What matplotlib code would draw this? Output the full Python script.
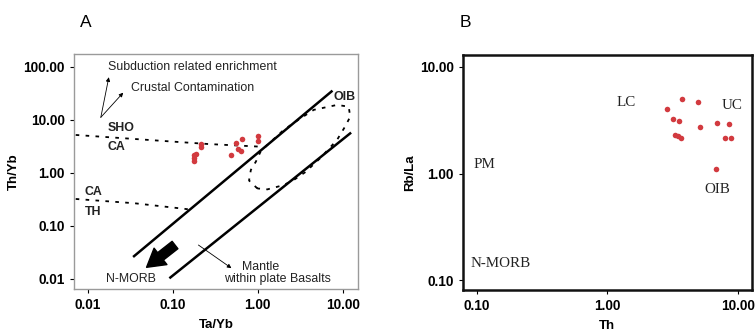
import numpy as np
import matplotlib.pyplot as plt
from matplotlib.ticker import FixedLocator, FuncFormatter

plt.rcParams['font.family'] = ['Liberation Sans', 'DejaVu Sans']

# --- Panel A data (Ta/Yb vs Th/Yb) ---
ta_yb = [0.176, 0.176, 0.176, 0.187, 0.215, 0.215, 0.48, 0.55, 0.59, 0.63, 0.66, 1.02, 1.02]
th_yb = [2.19, 1.89, 1.71, 2.28, 3.47, 3.05, 2.19, 3.63, 2.80, 2.63, 4.37, 5.0, 4.0]

upper_line_x = [0.034, 7.6]
upper_line_y = [0.026, 35.7]
lower_line_x = [0.091, 12.6]
lower_line_y = [0.0103, 5.77]

sho_ca_x = [0.00716, 0.257, 1.08]
sho_ca_y = [5.21, 3.52, 3.13]
ca_th_x = [0.00716, 0.0355, 0.15]
ca_th_y = [0.323, 0.268, 0.207]

oib_x = [0.99, 0.79, 0.83, 0.95, 1.08, 1.30, 2.02, 3.19, 4.57, 8.6, 11.8, 12.3,
         10.7, 8.6, 5.48, 3.65, 2.67, 2.02, 1.30, 0.99]
oib_y = [0.51, 0.72, 1.14, 1.63, 2.52, 3.38, 6.47, 10.7, 15.5, 19.2, 17.8, 11.5,
         7.5, 4.2, 1.92, 1.04, 0.74, 0.59, 0.49, 0.51]

# --- Panel B data (Th vs Rb/La) ---
th = [3.73, 4.92, 2.87, 3.2, 3.52, 5.13, 6.92, 8.5, 3.32, 3.5, 3.67, 7.98, 8.77, 6.73]
rb_la = [5.03, 4.67, 4.05, 3.27, 3.10, 2.72, 2.99, 2.88, 2.32, 2.24, 2.14, 2.16, 2.16, 1.11]

red = '#d23a3f'
fmt = FuncFormatter(lambda v, p: f"{v:.2f}")

fig = plt.figure(figsize=(7.55, 3.33), dpi=100)
axA = fig.add_axes([0.098, 0.132, 0.376, 0.706])
axB = fig.add_axes([0.613, 0.129, 0.383, 0.706])

for ax in (axA, axB):
    ax.set_xscale('log')
    ax.set_yscale('log')
    ax.minorticks_off()
    ax.tick_params(direction='out', length=3, width=0.8, labelsize=9.8,
                   top=False, right=False)

# Panel A
axA.set_xlim(10 ** -2.165, 10 ** 1.18)
axA.set_ylim(10 ** -2.19, 10 ** 2.245)
axA.xaxis.set_major_locator(FixedLocator([0.01, 0.1, 1, 10]))
axA.yaxis.set_major_locator(FixedLocator([0.01, 0.1, 1, 10, 100]))
axA.xaxis.set_major_formatter(fmt)
axA.yaxis.set_major_formatter(fmt)
for s in axA.spines.values():
    s.set_color('#9a9a9a')
    s.set_linewidth(1.0)

axA.plot(upper_line_x, upper_line_y, color='black', lw=1.8, solid_capstyle='butt')
axA.plot(lower_line_x, lower_line_y, color='black', lw=1.8, solid_capstyle='butt')
axA.plot(sho_ca_x, sho_ca_y, color='black', lw=1.3, ls=(0, (2, 3.5)))
axA.plot(ca_th_x, ca_th_y, color='black', lw=1.3, ls=(0, (2, 3.5)))
axA.plot(oib_x, oib_y, color='black', lw=1.3, ls=(0, (2, 3.5)))
axA.scatter(ta_yb, th_yb, s=16, color=red, zorder=3, linewidths=0)

# arrows
thin = dict(arrowstyle='-|>', color='black', lw=0.6, mutation_scale=6, shrinkA=0, shrinkB=0)
axA.annotate('', xy=(0.0176, 64), xytext=(0.01416, 11.2), arrowprops=thin)
axA.annotate('', xy=(0.026, 32.7), xytext=(0.01416, 11.2), arrowprops=thin)
axA.annotate('', xy=(0.49, 0.016), xytext=(0.2, 0.0437), arrowprops=thin)
axA.annotate('', xy=(0.049, 0.0166), xytext=(0.106, 0.0437),
             arrowprops=dict(arrowstyle='simple,head_length=0.85,head_width=1.0,tail_width=0.45',
                             color='black', mutation_scale=15, shrinkA=0, shrinkB=0))

tk = dict(fontsize=8.9, color='#222222')
axA.text(0.017, 101, 'Subduction related enrichment', va='center', ha='left', **tk)
axA.text(0.0318, 39.6, 'Crustal Contamination', va='center', ha='left', **tk)
axA.text(7.84, 27.5, 'OIB', va='center', ha='left', fontweight='bold', **tk)
axA.text(0.017, 6.97, 'SHO', va='center', ha='left', fontweight='bold', **tk)
axA.text(0.017, 3.13, 'CA', va='center', ha='left', fontweight='bold', **tk)
axA.text(0.0092, 0.432, 'CA', va='center', ha='left', fontweight='bold', **tk)
axA.text(0.0092, 0.186, 'TH', va='center', ha='left', fontweight='bold', **tk)
axA.text(0.0318, 0.0099, 'N-MORB', va='center', ha='center', **tk)
axA.text(1.08, 0.017, 'Mantle', va='center', ha='center', **tk)
axA.text(1.73, 0.0100, 'within plate Basalts', va='center', ha='center', **tk)

axA.set_xlabel('Ta/Yb', fontsize=9.5, fontweight='bold', labelpad=5)
axA.set_ylabel('Th/Yb', fontsize=9.5, fontweight='bold', labelpad=3)
fig.text(0.114, 0.933, 'A', fontsize=12.5, ha='center', va='center')

# Panel B
axB.set_xlim(10 ** -1.107, 10 ** 1.107)
axB.set_ylim(10 ** -1.09, 10 ** 1.11)
axB.xaxis.set_major_locator(FixedLocator([0.1, 1, 10]))
axB.yaxis.set_major_locator(FixedLocator([0.1, 1, 10]))
axB.xaxis.set_major_formatter(fmt)
axB.yaxis.set_major_formatter(fmt)
for s in axB.spines.values():
    s.set_color('#111111')
    s.set_linewidth(1.8)

axB.scatter(th, rb_la, s=16, color=red, zorder=3, linewidths=0)

sk = dict(fontsize=10.8, family=['Liberation Serif', 'DejaVu Serif'], color='#222222',
          ha='center', va='center')
axB.text(1.39, 4.61, 'LC', **sk)
axB.text(8.97, 4.29, 'UC', **sk)
axB.text(0.114, 1.22, 'PM', **sk)
axB.text(7.0, 0.708, 'OIB', **sk)
axB.text(0.151, 0.143, 'N-MORB', **sk)

axB.set_xlabel('Th', fontsize=9.5, fontweight='bold', labelpad=5)
axB.set_ylabel('Rb/La', fontsize=9.5, fontweight='bold', labelpad=3)
fig.text(0.617, 0.933, 'B', fontsize=12.5, ha='center', va='center')

for ax in (axA, axB):
    for lab in ax.get_xticklabels() + ax.get_yticklabels():
        lab.set_fontweight('bold')

fig.savefig('out.png', dpi=100)
